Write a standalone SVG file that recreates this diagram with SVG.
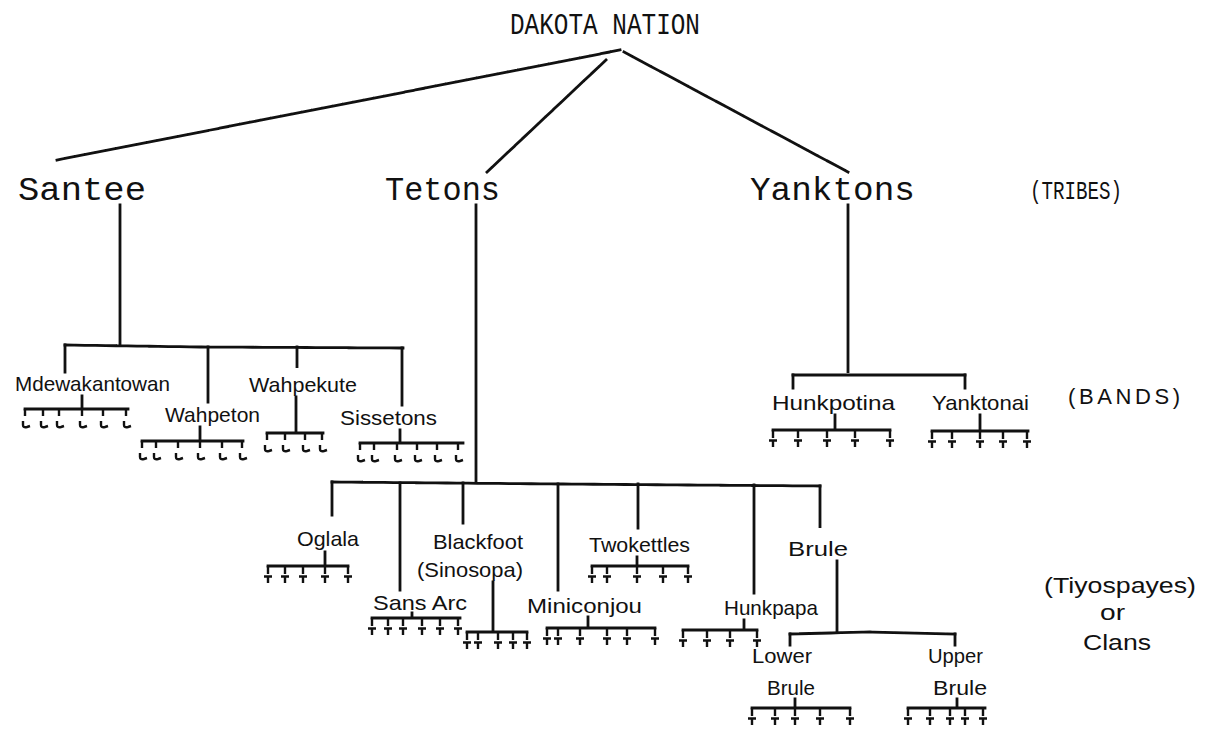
<svg xmlns="http://www.w3.org/2000/svg" xmlns:xlink="http://www.w3.org/1999/xlink" width="1214" height="746" viewBox="0 0 1214 746">
<style>
.bg{fill:#ffffff}
.ln{fill:none;stroke:#111;stroke-width:2.8;stroke-linecap:square;stroke-dasharray:9 1.5}
.tk{fill:none;stroke:#111;stroke-width:2.4}
.mono{font-family:"Liberation Mono","DejaVu Sans Mono",monospace;fill:#111}
.lab{font-family:"Liberation Sans","DejaVu Sans",sans-serif;font-size:21px;fill:#111}
.side{font-family:"Liberation Sans","DejaVu Sans",sans-serif;font-size:22px;fill:#111}
</style>
<defs>
<path id="t" class="tk" d="M0 0 V8 M-4 10.5 H4 M0 10.5 V17"/>
<path id="h" class="tk" d="M0 0 V7 M-2 12 V16 Q-2 19 2 18 L5 17"/>
</defs>
<rect class="bg" width="1214" height="746"/>

<g id="connectors">
  <!-- nation to tribes -->
  <path class="ln" d="M620 50 L57 160"/>
  <path class="ln" d="M606 60 L487 172"/>
  <path class="ln" d="M624 52 L848 172"/>
  <!-- Santee -->
  <path class="ln" d="M120 205 V345"/>
  <path class="ln" d="M65 345 L200 347 L403 348"/>
  <path class="ln" d="M65 345 V372"/>
  <path class="ln" d="M208 347 V402"/>
  <path class="ln" d="M297 347 V368"/>
  <path class="ln" d="M402 348 V405"/>
  <!-- Mdewakantowan cluster -->
  <path class="ln" d="M82 396 V409 M25 409 H128"/>
  <use href="#h" x="25" y="409"/><use href="#h" x="43" y="409"/><use href="#h" x="59" y="409"/><use href="#h" x="82" y="409"/><use href="#h" x="103" y="409"/><use href="#h" x="126" y="409"/>
  <!-- Wahpeton cluster -->
  <path class="ln" d="M200 427 V441 M142 441 H243"/>
  <use href="#h" x="142" y="441"/><use href="#h" x="156" y="441"/><use href="#h" x="178" y="441"/><use href="#h" x="200" y="441"/><use href="#h" x="222" y="441"/><use href="#h" x="242" y="441"/>
  <!-- Wahpekute cluster -->
  <path class="ln" d="M296 397 V433 M267 433 H323"/>
  <use href="#h" x="267" y="433"/><use href="#h" x="285" y="433"/><use href="#h" x="305" y="433"/><use href="#h" x="322" y="433"/>
  <!-- Sissetons cluster -->
  <path class="ln" d="M400 430 V443 M360 443 H463"/>
  <use href="#h" x="360" y="443"/><use href="#h" x="374" y="443"/><use href="#h" x="397" y="443"/><use href="#h" x="417" y="443"/><use href="#h" x="437" y="443"/><use href="#h" x="458" y="443"/>

  <!-- Tetons -->
  <path class="ln" d="M476 205 V481"/>
  <path class="ln" d="M332 482 L560 484 L820 486"/>
  <path class="ln" d="M332 482 V515"/>
  <path class="ln" d="M400 483 V590"/>
  <path class="ln" d="M463 483 V523"/>
  <path class="ln" d="M558 484 V590"/>
  <path class="ln" d="M638 484 V528"/>
  <path class="ln" d="M754 485 V593"/>
  <path class="ln" d="M820 486 V528"/>
  <!-- Oglala cluster -->
  <path class="ln" d="M325 552 V566 M268 566 H348"/>
  <use href="#t" x="268" y="566"/><use href="#t" x="285" y="566"/><use href="#t" x="303" y="566"/><use href="#t" x="325" y="566"/><use href="#t" x="348" y="566"/>
  <!-- Twokettles cluster -->
  <path class="ln" d="M637 557 V566 M592 566 H688"/>
  <use href="#t" x="592" y="566"/><use href="#t" x="607" y="566"/><use href="#t" x="637" y="566"/><use href="#t" x="663" y="566"/><use href="#t" x="688" y="566"/>
  <!-- Sans Arc cluster -->
  <path class="ln" d="M412 613 V618 M372 618 H460"/>
  <use href="#t" x="372" y="618"/><use href="#t" x="388" y="618"/><use href="#t" x="403" y="618"/><use href="#t" x="422" y="618"/><use href="#t" x="440" y="618"/><use href="#t" x="458" y="618"/>
  <!-- Blackfoot cluster -->
  <path class="ln" d="M493 582 V632 M467 632 H527"/>
  <use href="#t" x="467" y="632"/><use href="#t" x="478" y="632"/><use href="#t" x="498" y="632"/><use href="#t" x="513" y="632"/><use href="#t" x="527" y="632"/>
  <!-- Miniconjou cluster -->
  <path class="ln" d="M588 617 V628 M547 628 H655"/>
  <use href="#t" x="547" y="628"/><use href="#t" x="558" y="628"/><use href="#t" x="580" y="628"/><use href="#t" x="607" y="628"/><use href="#t" x="627" y="628"/><use href="#t" x="655" y="628"/>
  <!-- Hunkpapa cluster -->
  <path class="ln" d="M744 620 V630 M683 630 H757"/>
  <use href="#t" x="683" y="630"/><use href="#t" x="707" y="630"/><use href="#t" x="730" y="630"/><use href="#t" x="757" y="630"/>
  <!-- Brule split -->
  <path class="ln" d="M837 561 V632"/>
  <path class="ln" d="M790 634 L870 632 L955 634"/>
  <path class="ln" d="M790 634 V645"/>
  <path class="ln" d="M955 634 V645"/>
  <!-- Lower Brule cluster -->
  <path class="ln" d="M795 699 V708 M752 708 H850"/>
  <use href="#t" x="752" y="708"/><use href="#t" x="775" y="708"/><use href="#t" x="795" y="708"/><use href="#t" x="820" y="708"/><use href="#t" x="850" y="708"/>
  <!-- Upper Brule cluster -->
  <path class="ln" d="M957 699 V708 M908 708 H985"/>
  <use href="#t" x="908" y="708"/><use href="#t" x="930" y="708"/><use href="#t" x="950" y="708"/><use href="#t" x="965" y="708"/><use href="#t" x="983" y="708"/>

  <!-- Yanktons -->
  <path class="ln" d="M848 205 V373"/>
  <path class="ln" d="M793 375 H965"/>
  <path class="ln" d="M793 375 V388"/>
  <path class="ln" d="M965 375 V388"/>
  <!-- Hunkpotina cluster -->
  <path class="ln" d="M835 415 V430 M773 430 H890"/>
  <use href="#t" x="773" y="430"/><use href="#t" x="798" y="430"/><use href="#t" x="827" y="430"/><use href="#t" x="855" y="430"/><use href="#t" x="890" y="430"/>
  <!-- Yanktonai cluster -->
  <path class="ln" d="M980 415 V431 M932 431 H1028"/>
  <use href="#t" x="932" y="431"/><use href="#t" x="952" y="431"/><use href="#t" x="980" y="431"/><use href="#t" x="1003" y="431"/><use href="#t" x="1027" y="431"/>
</g>

<g id="nation"><text class="mono" x="510" y="34" font-size="29" textLength="190" lengthAdjust="spacingAndGlyphs">DAKOTA  NATION</text></g>
<g id="santee"><text class="mono" x="18" y="200" font-size="33" textLength="128" lengthAdjust="spacingAndGlyphs">Santee</text></g>
<g id="tetons"><text class="mono" x="385" y="200" font-size="33" textLength="115" lengthAdjust="spacingAndGlyphs">Tetons</text></g>
<g id="yanktons"><text class="mono" x="750" y="200" font-size="33" textLength="165" lengthAdjust="spacingAndGlyphs">Yanktons</text></g>
<g id="label-tribes"><text class="mono" x="1030" y="199" font-size="26" textLength="92" lengthAdjust="spacingAndGlyphs">(TRIBES)</text></g>

<g id="mdewakantowan"><text class="lab" x="15" y="391" textLength="155" lengthAdjust="spacingAndGlyphs">Mdewakantowan</text></g>
<g id="wahpeton"><text class="lab" x="165" y="422" textLength="95" lengthAdjust="spacingAndGlyphs">Wahpeton</text></g>
<g id="wahpekute"><text class="lab" x="249" y="392" textLength="108" lengthAdjust="spacingAndGlyphs">Wahpekute</text></g>
<g id="sissetons"><text class="lab" x="340" y="425" textLength="97" lengthAdjust="spacingAndGlyphs">Sissetons</text></g>
<g id="hunkpotina"><text class="lab" x="772" y="410" textLength="123" lengthAdjust="spacingAndGlyphs">Hunkpotina</text></g>
<g id="yanktonai"><text class="lab" x="932" y="410" textLength="97" lengthAdjust="spacingAndGlyphs">Yanktonai</text></g>
<g id="label-bands"><text class="side" x="1068" y="404" textLength="112" lengthAdjust="spacing">(BANDS)</text></g>

<g id="oglala"><text class="lab" x="297" y="546" textLength="62" lengthAdjust="spacingAndGlyphs">Oglala</text></g>
<g id="blackfoot"><text class="lab" x="433" y="549" textLength="90" lengthAdjust="spacingAndGlyphs">Blackfoot</text><text class="lab" x="417" y="577" textLength="106" lengthAdjust="spacingAndGlyphs">(Sinosopa)</text></g>
<g id="twokettles"><text class="lab" x="589" y="552" textLength="101" lengthAdjust="spacingAndGlyphs">Twokettles</text></g>
<g id="brule"><text class="lab" x="788" y="556" textLength="60" lengthAdjust="spacingAndGlyphs">Brule</text></g>
<g id="sans-arc"><text class="lab" x="373" y="610" textLength="94" lengthAdjust="spacingAndGlyphs">Sans Arc</text></g>
<g id="miniconjou"><text class="lab" x="527" y="613" textLength="115" lengthAdjust="spacingAndGlyphs">Miniconjou</text></g>
<g id="hunkpapa"><text class="lab" x="724" y="615" textLength="94" lengthAdjust="spacingAndGlyphs">Hunkpapa</text></g>
<g id="lower-brule"><text class="lab" x="752" y="663" textLength="60" lengthAdjust="spacingAndGlyphs">Lower</text><text class="lab" x="767" y="695" textLength="48" lengthAdjust="spacingAndGlyphs">Brule</text></g>
<g id="upper-brule"><text class="lab" x="928" y="663" textLength="55" lengthAdjust="spacingAndGlyphs">Upper</text><text class="lab" x="933" y="695" textLength="54" lengthAdjust="spacingAndGlyphs">Brule</text></g>
<g id="label-clans"><text class="side" x="1044" y="593" textLength="152" lengthAdjust="spacingAndGlyphs">(Tiyospayes)</text><text class="side" x="1100" y="620" textLength="25" lengthAdjust="spacingAndGlyphs">or</text><text class="side" x="1083" y="650" textLength="68" lengthAdjust="spacingAndGlyphs">Clans</text></g>
</svg>
